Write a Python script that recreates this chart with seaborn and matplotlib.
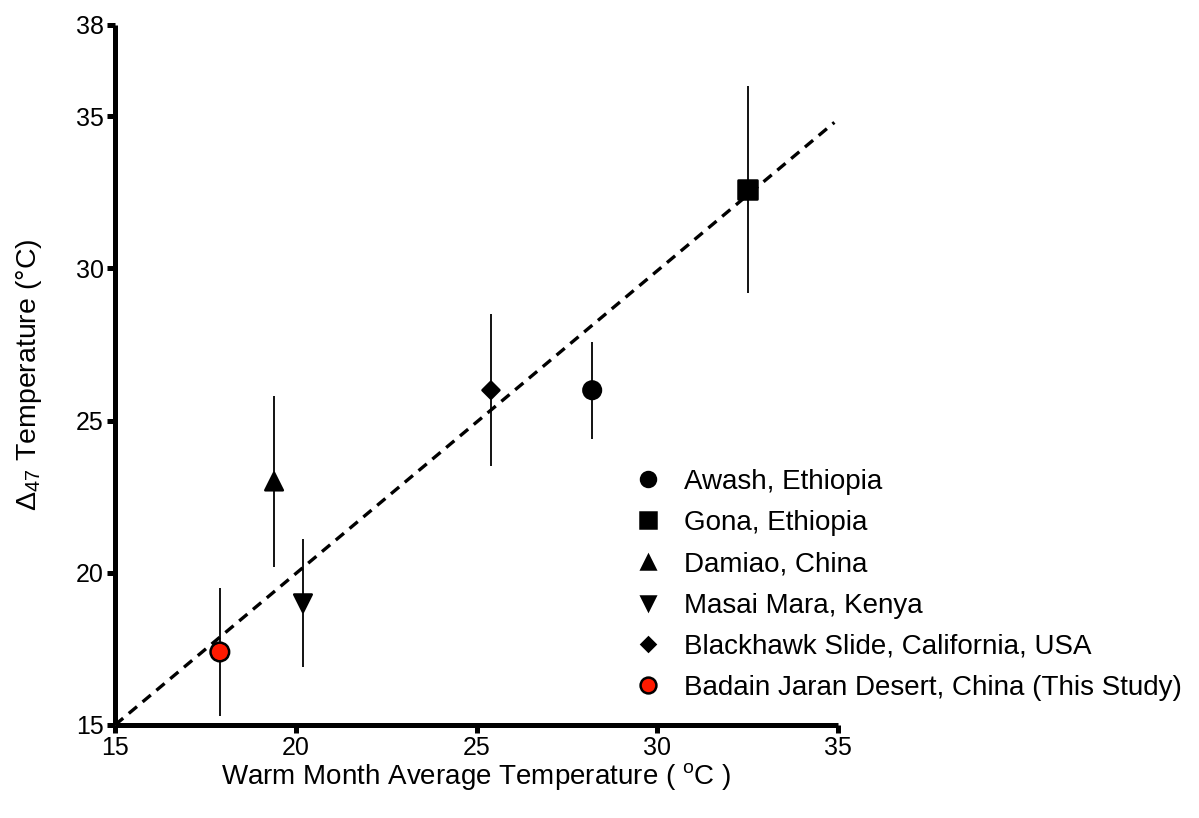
import matplotlib
matplotlib.use("Agg")
import matplotlib.pyplot as plt
import seaborn as sns
import pandas as pd

sites = ["Awash, Ethiopia", "Gona, Ethiopia", "Damiao, China", "Masai Mara, Kenya",
         "Blackhawk Slide, California, USA", "Badain Jaran Desert, China (This Study)"]
warm_month_t = [28.2, 32.5, 19.4, 20.2, 25.4, 17.9]
d47_t = [26.0, 32.6, 23.0, 19.0, 26.0, 17.4]
d47_err = [1.6, 3.4, 2.8, 2.1, 2.5, 2.1]
fit_x = [15.0, 34.9]
fit_y = [15.0, 34.8]
x_ticks = [15, 20, 25, 30, 35]
y_ticks = [15, 20, 25, 30, 35, 38]

df = pd.DataFrame({"site": sites, "x": warm_month_t, "y": d47_t, "err": d47_err})
fit = pd.DataFrame({"x": fit_x, "y": fit_y})

sns.set_theme(style="ticks", rc={"text.color": "black", "axes.labelcolor": "black",
                                 "xtick.color": "black", "ytick.color": "black",
                                 "axes.edgecolor": "black"})
plt.rcParams["font.family"] = ["Liberation Sans", "DejaVu Sans"]
plt.rcParams["mathtext.default"] = "regular"

fig = plt.figure(figsize=(11.99, 8.18), dpi=100)
ax = fig.add_axes([115/1199, 1-725/818, (838-115)/1199, (725-25)/818])

sns.lineplot(data=fit, x="x", y="y", ax=ax, color="black", lw=2.4,
             linestyle=(0, (3.2, 2.2)), zorder=2)

ax.errorbar(df["x"], df["y"], yerr=df["err"], fmt="none", ecolor="black",
            elinewidth=1.3, capsize=0, zorder=1)

markers = {sites[0]: "o", sites[1]: "s", sites[2]: "^", sites[3]: "v",
           sites[4]: "D", sites[5]: "o"}
palette = {s: "black" for s in sites}
palette[sites[5]] = "#ff1a00"
sizes = {sites[0]: 160, sites[1]: 190, sites[2]: 160, sites[3]: 160,
         sites[4]: 75, sites[5]: 180}
sns.scatterplot(data=df, x="x", y="y", hue="site", style="site", size="site",
                sizes=sizes, markers=markers, palette=palette, edgecolor="black",
                linewidth=1.8, ax=ax, zorder=3, legend="full")

handles, labels = ax.get_legend_handles_labels()
leg = ax.legend(handles, labels, loc="upper left", bbox_to_anchor=(0.72, 0.366),
                frameon=False, fontsize=20, handlelength=0.9, handletextpad=0.85,
                labelspacing=0.55, borderaxespad=0, borderpad=0, markerscale=0.85)
for t in leg.get_texts():
    t.set_color("black")

ax.set_xlim(15, 35)
ax.set_ylim(15, 38)
ax.set_xticks(x_ticks)
ax.set_yticks(y_ticks)
for s in ["top", "right"]:
    ax.spines[s].set_visible(False)
for s in ["left", "bottom"]:
    ax.spines[s].set_linewidth(3.6)
    ax.spines[s].set_color("black")
    ax.spines[s].set_capstyle("butt")
ax.tick_params(axis="both", width=3.6, length=6, labelsize=18, color="black",
               labelcolor="black", pad=2)
ax.set_xlabel("Warm Month Average Temperature ( $^{o}$C )", fontsize=20, labelpad=1)
ax.set_ylabel("$\\Delta_{47}$ Temperature (°C)", fontsize=20.5, labelpad=23)

fig.savefig("out.png", dpi=100)
